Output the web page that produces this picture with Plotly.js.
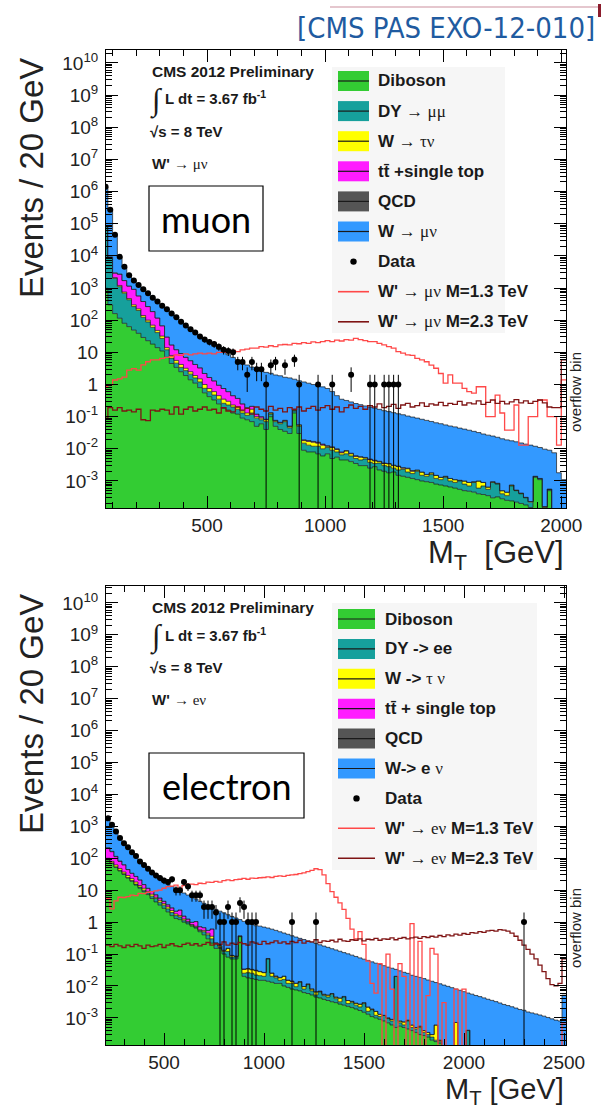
<!DOCTYPE html>
<html><head><meta charset="utf-8">
<script src="https://cdn.plot.ly/plotly-3.0.1.min.js"></script>
<style>html,body{margin:0;padding:0;background:#fff;}#chart{width:603px;height:1109px;}</style>
</head><body><div id="chart"></div>
<script>
// ---------------- MUON (top) : 20 GeV bins, first edge 60 GeV, last bin = overflow ----------------
const muFirstEdge = 60, muNbins = 98;
const muDiboson = [
980,300,160,115,80,63,49,39,29,23,18,14,11,
7,4.5,3.4,2.5,1.9,1.4,1.1,0.8,0.55,0.42,0.33,0.25,0.18,0.16,0.13,0.12,0.09,
0.08,0.07,0.05,0.06,0.04,0.1,0.05,0.04,0.035,0.03,0.13,0.03,
0.009,0.008,0.008,0.007,0.006,0.007,0.005,0.0055,0.0045,0.0045,0.004,0.0035,
0.003,0.003,0.0025,0.0028,0.0022,0.002,0.0018,0.0019,0.0015,0.0014,0.0013,0.0012,
0.0011,0.001,0.00095,0.0009,0.0008,0.00075,0.0007,0.00065,0.0006,0.00055,0.0005,0.00048,
0.00045,0.0004,0.00038,0.00035,0.0003,0.00032,0.00028,0.00025,0.00024,0.00022,0.0002,0.00018,
0.00015,0.0013,0.0011,0.00012,0.0005,0.0001,0.0001,0.0001];
const muDY = [
8e4,8000,1840,985,610,367,216,161,94,65,42,27,16,
5,2,1.2,0.9,0.8,0.7,0.5,0.4,0.21,0.18,0.14,0.1,0.08,0.07,0.07,0.05,0.04,
0.03,0.06,0.04,0.02,0.03,0.02,0.02,0.02,0.035,0.015,0.02,0.02,
0.006,0.005,0.004,0.005,0.004,0.004,0.004,0.0025,0.002,0.0025,0.002,0.0015,
0.0015,0.0018,0.0013,0.0007,0.0014,0.001,0.001,0.0006,0.0007,0.0009,0.0006,0.0005,
0.0009,0.0005,0.00045,0.0007,0.0004,0.00035,0.0006,0.00035,0.0003,0.00045,0.0003,0.00022,
0.00045,0.0002,0.00032,0.0002,0.0006,0.00048,0.00012,0.0001,0.00046,0.00028,0.0002,0.00012,
0.00007,0.0001,0.0001,0.00003,0.00005,0.00002,0,0];
const muWtau = [
200,200,100,100,60,40,35,25,17,12,10,7,5,
2,1.5,1.0,0.8,0.5,0.4,0.3,0.3,0.24,0.15,0.13,0.1,0.09,0.07,0.03,0.03,0.02,
0.02,0.04,0.01,0.01,0.01,0.01,0.005,0.005,0.005,0.005,0.01,0.005,
0.003,0.004,0.004,0.003,0.003,0.001,0.002,0.0015,0.001,0.0015,0.001,0.0008,
0.001,0.0004,0.0008,0.0007,0.0004,0.0005,0.0006,0.0005,0.0006,0.0002,0.0005,0.0003,
0.0002,0.0004,0.0002,0.0002,0.0003,0.0002,0.0001,0.0002,0.0002,0.00005,0.0002,0.0002,
0.00005,0.0004,0.0002,0.0001,0.00005,0.00005,0.0001,0.0001,0.00005,0.00002,0.00002,0.00001,
0.00001,0,0,0.00001,0.00001,0,0,0];
const muTop = [
1000,500,800,1500,950,680,610,345,240,165,115,69,35,
16,9,6.5,5,3.8,3,2.3,1.8,1.2,0.9,0.7,0.5,0.4,0.3,0.22,0.17,0.1,
0.06,0.04,0.02,0.01,0.003,0.003,0.002,0.002,0.002,0.001,0.001,0.001,
0.001,0.001,0.001,0.001,0.001,0.0005,0.0005,0.0005,0.0005,0.0003,0.0003,0.0003,
0.0002,0.0002,0.0002,0.0002,0.0001,0.0001,0.0001,0.0001,0.0001,0.0001,0.0001,0.0001,
0,0,0,0,0,0,0,0,0,0,0,0,
0,0,0,0,0,0,0,0,0,0,0,0,
0,0,0,0,0,0,0,0];
const muQCD = [
2000,300,60,15,5,2,1,0.5,0.3,0.2,0.1,0,0,
0,0,0,0,0,0,0,0,0,0,0,0,0,0,0,0,0,
0,0,0,0,0,0,0,0,0,0,0,0,
0,0,0,0,0,0,0,0,0,0,0,0,
0,0,0,0,0,0,0,0,0,0,0,0,
0,0,0,0,0,0,0,0,0,0,0,0,
0,0,0,0,0,0,0,0,0,0,0,0,
0,0,0,0,0,0,0,0];
const muWmunu = [
1.32e6,2.5e5,4.1e4,6800,2800,1450,790,630,500,395,315,263,218,
185,143,108,81,61,46.6,36,27.9,22.2,17.85,14.2,11.6,9.5,7.85,6.5,5.45,4.6,
3.85,3.27,2.88,2.6,2.3,2.1,1.9,1.8,1.6,1.55,1.3,1.25,
1.18,1.08,0.98,0.9,0.83,0.74,0.59,0.44,0.34,0.31,0.28,0.25,
0.23,0.21,0.195,0.18,0.165,0.15,0.14,0.13,0.12,0.112,0.102,0.095,
0.088,0.081,0.075,0.069,0.063,0.059,0.054,0.05,0.047,0.043,0.04,0.037,
0.034,0.031,0.028,0.026,0.024,0.022,0.02,0.0185,0.017,0.016,0.0148,0.0137,
0.0128,0.0106,0.0098,0.0096,0.0085,0.0074,0.0017,0.001];
const muData = [
1.4e6,2.7e5,4.5e4,9300,4600,2500,1700,1230,910,690,500,380,282,
219,162,123,89,68,52,41,31,25,21,18,15,12,11,10,5,5,
2,5,3,3,1,4,5,0,4,0,6,1,
0,0,0,1,0,0,1,0,0,0,2,0,
0,0,1,1,0,1,1,1,1,0,0,0,
0,0,0,0,0,0,0,0,0,0,0,0,
0,0,0,0,0,0,0,0,0,0,0,0,
0,0,0,0,0,0,0,0];
const muWp13 = [
0.85,0.98,1.38,1.5,1.7,2.8,3.1,2.8,4.1,5.1,5.8,5.8,6.5,
7,7.4,8.3,8,9,8.3,9,9.5,9,9.5,9,10,10,10.5,11.5,10.5,12,
12.6,13.5,13.5,15,14.5,16,15,17,17.5,17,19,18.5,
20,19,21,20,21.5,23,21.5,24,22.5,25,24,27,
25,23,21.5,21.5,19,17,15,13.5,10.5,9.5,8.3,8,
6.5,5.8,5.1,4,3.2,2.2,1.1,2.0,1.1,1.1,0.76,0.6,
0.54,0.85,0.85,0.1,0.1,0.47,0.13,0.038,0.038,0.23,0.013,0.013,
0.1,0.1,0.33,0.33,0.1,0.1,0.013,1.4];
const muWp23 = [
0.09,0.19,0.16,0.19,0.15,0.16,0.14,0.17,0.08,0.075,0.16,0.15,0.17,
0.16,0.12,0.2,0.12,0.17,0.2,0.15,0.17,0.2,0.16,0.17,0.13,0.19,0.15,0.14,0.2,0.16,
0.18,0.12,0.2,0.17,0.15,0.21,0.16,0.18,0.14,0.19,0.17,0.2,
0.15,0.18,0.21,0.16,0.19,0.22,0.17,0.2,0.14,0.19,0.23,0.18,
0.21,0.17,0.22,0.2,0.25,0.19,0.21,0.24,0.18,0.23,0.26,0.2,
0.22,0.27,0.21,0.25,0.23,0.28,0.22,0.26,0.24,0.3,0.23,0.27,
0.25,0.31,0.24,0.28,0.33,0.26,0.3,0.25,0.29,0.34,0.27,0.31,
0.26,0.3,0.33,0.27,0.2,0.19,0.19,5.8];

// ---------------- ELECTRON (bottom) : 20 GeV bins, first edge 210 GeV ----------------
const eFirstEdge = 210, eNbins = 115;
const eDiboson = [
89,70,52,40,31,24,19,14.5,11.5,9,7.3,5.5,4.3,3.4,2.7,2.1,1.6,1.3,1.2,1.0,
0.88,0.75,0.65,0.5,0.4,0.3,0.22,0.15,0.15,0.1,0.08,0.07,0.07,0.35,0.02,0.018,0.017,0.016,0.015,0.015,
0.014,0.013,0.012,0.012,0.01,0.009,0.008,0.0075,0.007,0.0062,0.0058,0.0052,0.0045,0.0042,0.0038,0.0035,0.0032,0.003,0.0027,0.0025,
0.0023,0.0021,0.0019,0.0017,0.0015,0.0013,0.0011,0.001,0.0009,0.0008,0.0007,0.0006,0.0005,0.00055,0.0005,0.00045,0.0004,0.00035,0.0003,0.00028,
0.00025,0.0002,0.00018,0.00016,0.0001,0.0001,0.0001,0.0001,0.0001,0.0001,0.0001,0.0001,0.0001,0.0001,0.0001,0.0001,0.0001,0.0001,0.0001,0.0001,
0.0001,0.0001,0.0001,0.0001,0.0001,0.0001,0.0001,0.0001,0.0001,0.0001,0.0001,0.0001,0.0001,0.0001,0.0001];
const eDY = [
3,2,2,2,2,1,1,1,1,1,0.9,1.0,1.2,0.8,0.7,0.5,0.4,0.3,0.25,0.15,
0.12,0.05,0.05,0.05,0.1,0.1,0.08,0.05,0.01,0.02,0.04,0.01,0.01,0.01,0.005,0.008,0.008,0.006,0.006,0.005,
0.056,0.007,0.006,0.003,0.006,0.003,0.004,0.002,0.006,0.0018,0.0052,0.0018,0.0007,0.0023,0.0012,0.001,0.0023,0.001,0.0005,0.002,
0.0005,0.0009,0.0006,0.0005,0.0013,0.0003,0.0007,0.0002,0.0002,0.0004,0.00025,0.0002,0.0195,0.00015,0.0001,0.00035,0.0001,0.0001,0.0002,0.00007,
0.00005,0.00005,0.00002,0.00002,0.00002,0.00002,0.00002,0.00002,0.00002,0.00002,0.0003,0.00002,0.00002,0.00002,0.00002,0.00002,0.00002,0.00002,0.00002,0.00002,
0.00002,0.00002,0.00002,0.00002,0.00002,0.00002,0.00002,0.00002,0.00002,0.00002,0.00002,0.00002,0.00002,0.00002,0.00002];
const eWtau = [
8,8,8,6,4,4,3,2.5,1.5,1.5,1.0,1.0,0.5,0.6,0.4,0.4,0.3,0.2,0.15,0.1,
0.05,0.04,0.04,0.02,0.05,0.05,0.06,0.02,0.02,0.01,0.03,0.01,0.005,0.01,0.008,0.008,0.007,0.008,0.007,0.006,
0.002,0.005,0.002,0.003,0.004,0.003,0.002,0.0025,0.0005,0.0015,0.0005,0.001,0.0013,0.0003,0.0005,0.0007,0.0003,0.0005,0.001,0.0002,
0.0007,0.0003,0.0004,0.0005,0.0002,0.0006,0.0001,0.0004,0.0002,0,0.00005,0.0001,0.0001,0.0001,0.00015,0.00005,0.0001,0.00005,0.00005,0.00005,
0.00005,0.00005,0.0004,0.00002,0.00001,0.00001,0.00001,0.0006,0.00001,0.00001,0.00001,0.00001,0.00001,0.00001,0.00001,0.00001,0.00001,0.00001,0.00001,0.00001,
0.00001,0.00001,0.00001,0.00001,0.00001,0.00001,0.00001,0.00001,0.00001,0.00001,0.00001,0.00001,0.00001,0.00001,0.00001];
const eTop = [
105,80,50,32,25,15,11,9,7,3.5,2.3,1.6,1.2,0.9,0.7,0.5,0.5,0.4,0.8,0.3,
0.2,0.15,0.3,0.15,0.12,0.1,0.25,0.005,0.003,0.002,0.002,0.001,0.001,0.001,0.001,0.001,0.001,0.001,0.0005,0.0005,
0.0005,0.0005,0.0005,0.0003,0.0003,0.0003,0.0002,0.0002,0.0002,0.0001,0.0001,0.0001,0.0001,0.0001,0,0,0,0,0,0,
0,0,0,0,0,0,0,0,0,0,0,0,0,0,0,0,0,0,0,0,
0,0,0,0,0,0,0,0,0,0,0,0,0,0,0,0,0,0,0,0,
0,0,0,0,0,0,0,0,0,0,0,0,0,0,0];
const eQCD = [
10,5,3,2,1,0.5,0,0,0,0,0,0,0,0,0,0,0,0,0,0,
0,0,0,0,0,0,0,0,0,0,0,0,0,0,0,0,0,0,0,0,
0,0,0,0,0,0,0,0,0,0,0,0,0,0,0,0,0,0,0,0,
0,0,0,0,0,0,0,0,0,0,0,0,0,0,0,0,0,0,0,0,
0,0,0,0,0,0,0,0,0,0,0,0,0,0,0,0,0,0,0,0,
0,0,0,0,0,0,0,0,0,0,0,0,0,0,0];
const eWenu = [
1485,885,545,338,227,170.5,116,86,61,47,36.5,27.9,21.8,17.3,14,12,10.2,8.8,7.0,6.6,
5.8,5.02,4.3,3.78,3.2,2.8,2.5,2.28,2.02,1.82,1.55,1.41,1.26,0.83,1.02,0.92,0.82,0.74,0.72,0.67,
0.58,0.575,0.53,0.48,0.435,0.4,0.36,0.328,0.296,0.275,0.248,0.227,0.208,0.188,0.172,0.157,0.141,0.13,0.118,0.106,
0.098,0.089,0.081,0.073,0.066,0.061,0.055,0.05,0.047,0.042,0.038,0.035,0.013,0.029,0.026,0.024,0.021,0.0195,0.018,0.0166,
0.015,0.0137,0.0122,0.0115,0.0105,0.0096,0.0087,0.0073,0.0072,0.0065,0.0056,0.0054,0.0049,0.0045,0.0041,0.0037,0.0034,0.0031,0.0028,0.0025,
0.0023,0.0021,0.0019,0.0017,0.0016,0.0014,0.0013,0.0012,0.0011,0.001,0.0009,0.0008,0.00072,0.00067,0.005];
const eData = [
1780,1120,690,430,295,222,155,118,79,62,47,36,29,24,20,18,22,10,10,18,
13,7,7,7,3,3,3,2,1,1,3,1,1,4,3,1,1,1,0,0,
0,0,0,0,0,0,1,0,0,0,0,0,1,0,0,0,0,0,0,0,
0,0,0,0,0,0,0,0,0,0,0,0,0,0,0,0,0,0,0,0,
0,0,0,0,0,0,0,0,0,0,0,0,0,0,0,0,0,0,0,0,
0,0,0,0,1,0,0,0,0,0,0,0,0,0,0];
const eWp13 = [
5.6,2.6,4.6,6,5.9,6.3,7,6.8,8,7.8,8.5,9,9.5,10,11.5,13,13.5,14.5,11,14,
15.5,15.5,15,16.5,16,18,17.5,19,18,20,21,20,21.5,22,23.5,22,24,23.5,24.5,25,
26,25,27,28,27,29,30,31,33,35,38,42,47,44,30,16,9,6,4,2.5,
1.3,0.6,0.3,0.5,0.2,0.06,0.012,0.006,0.05,0,0.1,0.008,0,0.05,0.02,0,0.9,0,0.25,0,
0.005,0.15,0.1,0,0.003,0,0,0.008,0,0.008,0,0,0,0,0,0,0,0,0,0,
0,0,0,0,0,0,0,0,0,0,0,0,0,0,0.0007];
const eWp23 = [
0.19,0.17,0.2,0.18,0.16,0.19,0.17,0.2,0.18,0.15,0.19,0.17,0.18,0.2,0.16,0.19,0.21,0.18,0.17,0.2,
0.22,0.19,0.21,0.18,0.2,0.23,0.19,0.21,0.2,0.24,0.19,0.22,0.2,0.23,0.21,0.19,0.24,0.22,0.2,0.25,
0.21,0.23,0.26,0.22,0.24,0.21,0.25,0.23,0.27,0.22,0.25,0.24,0.28,0.23,0.26,0.25,0.27,0.24,0.29,0.26,
0.25,0.28,0.27,0.3,0.26,0.29,0.28,0.31,0.27,0.3,0.29,0.32,0.28,0.31,0.33,0.3,0.32,0.34,0.31,0.35,
0.33,0.36,0.34,0.38,0.35,0.4,0.37,0.42,0.39,0.44,0.41,0.47,0.45,0.5,0.48,0.53,0.55,0.52,0.58,0.56,
0.52,0.45,0.36,0.27,0.19,0.14,0.1,0.07,0.045,0.028,0.017,0.011,0.01,0.012,0.07];

// ---------------- labels ----------------
const gk = s => "<span style='font-family:Liberation Serif'>" + s + "</span>";
const muLegendLabels = ["<b>Diboson</b>", "<b>DY</b> " + gk("→ μμ"), "<b>W</b> " + gk("→ τν"),
  "<b>tt\u0304 +single top</b>", "<b>QCD</b>", "<b>W</b> " + gk("→ μν"), "<b>Data</b>",
  "<b>W'</b> " + gk("→ μν") + " <b>M=1.3 TeV</b>", "<b>W'</b> " + gk("→ μν") + " <b>M=2.3 TeV</b>"];
const eLegendLabels = ["<b>Diboson</b>", "<b>DY -&gt; ee</b>", "<b>W -&gt;</b> " + gk("τ ν"),
  "<b>tt\u0304 + single top</b>", "<b>QCD</b>", "<b>W-&gt; e</b> " + gk("ν"), "<b>Data</b>",
  "<b>W'</b> " + gk("→ eν") + " <b>M=1.3 TeV</b>", "<b>W'</b> " + gk("→ eν") + " <b>M=2.3 TeV</b>"];
const muChannelText = ["<b>W'</b> " + gk("→ μν"), "muon"];
const eChannelText = ["<b>W'</b> " + gk("→ eν"), "electron"];
const infoText = ["<b>CMS 2012 Preliminary</b>", "<b>L dt = 3.67 fb<sup>-1</sup></b>", "<b>√s = 8 TeV</b>"];
const yTickPowers = [-3,-2,-1,0,1,2,3,4,5,6,7,8,9,10];
const yTickText = yTickPowers.map(p => p === 0 ? "1" : p === 1 ? "10" : "10<sup>" + p + "</sup>");
const muXTicks = [500,1000,1500,2000], eXTicks = [500,1000,1500,2000,2500];

// ---------------- colours ----------------
const C = {dib:'#33cc33', dy:'#16a09c', wtau:'#ffff00', top:'#ff1cff', qcd:'#555555', wl:'#3399ff', red:'#ff4848', dred:'#7f1414'};

// ---------------- helpers ----------------
const W = 603, H = 1109;
const px = x => x / W, py = y => 1 - y / H;
const TINY = 1e-9;
function edgesOf(first, n){ const e=[]; for(let i=0;i<=n;i++) e.push(first+20*i); return e; }
function centersOf(first, n){ const c=[]; for(let i=0;i<n;i++) c.push(first+10+20*i); return c; }
function stepY(v){ const y=v.map(a=>a>0?a:TINY); y.push(y[y.length-1]); return y; }

function stackTraces(ed, comps, xa, ya){
  const n = ed.length-1;
  let cum = new Array(n).fill(0);
  const tr=[{x:ed, y:ed.map(()=>TINY), mode:'lines', line:{width:0, shape:'hv'}, xaxis:xa, yaxis:ya, hoverinfo:'skip', showlegend:false}];
  comps.forEach(c=>{
    cum = cum.map((s,i)=>s+(c.v[i]||0));
    tr.push({x:ed, y:stepY(cum), mode:'lines', line:{shape:'hv', color:'#1a1a1a', width:0.7},
      fill:'tonexty', fillcolor:c.col, xaxis:xa, yaxis:ya, hoverinfo:'skip', showlegend:false});
  });
  return tr;
}
function lineTrace(ed, v, col, xa, ya){
  return {x:ed, y:stepY(v), mode:'lines', line:{shape:'hv', color:col, width:1.3}, xaxis:xa, yaxis:ya, hoverinfo:'skip', showlegend:false};
}
function dataTrace(cen, counts, xa, ya){
  const x=[],y=[],up=[],dn=[];
  counts.forEach((c,i)=>{ if(c>0){ const e=Math.sqrt(c); x.push(cen[i]); y.push(c); up.push(e); dn.push(c-e>0?e:c-1e-7); } });
  return {x, y, mode:'markers', marker:{color:'#000', size:6}, xaxis:xa, yaxis:ya, hoverinfo:'skip', showlegend:false,
    error_y:{type:'data', symmetric:false, array:up, arrayminus:dn, width:0, thickness:1, color:'#000'}};
}

const muEd = edgesOf(muFirstEdge, muNbins), muCen = centersOf(muFirstEdge, muNbins);
const eEd = edgesOf(eFirstEdge, eNbins), eCen = centersOf(eFirstEdge, eNbins);

let traces = [];
traces = traces.concat(stackTraces(muEd, [
  {v:muDiboson,col:C.dib},{v:muDY,col:C.dy},{v:muWtau,col:C.wtau},{v:muTop,col:C.top},{v:muQCD,col:C.qcd},{v:muWmunu,col:C.wl}], 'x','y'));
traces.push(lineTrace(muEd, muWp13, C.red, 'x','y'));
traces.push(lineTrace(muEd, muWp23, C.dred, 'x','y'));
traces.push(dataTrace(muCen, muData, 'x','y'));
traces = traces.concat(stackTraces(eEd, [
  {v:eDiboson,col:C.dib},{v:eDY,col:C.dy},{v:eWtau,col:C.wtau},{v:eTop,col:C.top},{v:eQCD,col:C.qcd},{v:eWenu,col:C.wl}], 'x2','y2'));
traces.push(lineTrace(eEd, eWp13, C.red, 'x2','y2'));
traces.push(lineTrace(eEd, eWp23, C.dred, 'x2','y2'));
traces.push(dataTrace(eCen, eData, 'x2','y2'));

// axes
const tickFont = {family:'Liberation Sans, Arial, sans-serif', size:19, color:'#222'};
const yMinor = []; for(let p=-4;p<=10;p++) for(let m=2;m<=9;m++) yMinor.push(m*Math.pow(10,p));
function yAxis(range, dom, anchor){
  return {type:'log', range, domain:dom, anchor, tickmode:'array', tickvals:yTickPowers.map(p=>Math.pow(10,p)), ticktext:yTickText,
    ticks:'inside', ticklen:12, tickwidth:1, tickcolor:'#000', ticklabelstandoff:3,
    minor:{tickmode:'array', tickvals:yMinor, ticks:'inside', ticklen:6, tickwidth:1, tickcolor:'#000'},
    showline:true, linecolor:'#000', linewidth:1, mirror:'ticks', showgrid:false, zeroline:false, tickfont:tickFont, fixedrange:true};
}
function xAxis(range, dom, anchor, majors, lo, hi){
  const mn=[]; for(let v=lo; v<=hi; v+=100) if(majors.indexOf(v)<0) mn.push(v);
  return {range, domain:dom, anchor, tickmode:'array', tickvals:majors, ticktext:majors.map(String),
    ticks:'inside', ticklen:12, tickwidth:1, tickcolor:'#000', ticklabelstandoff:0,
    minor:{tickmode:'array', tickvals:mn, ticks:'inside', ticklen:6, tickwidth:1, tickcolor:'#000'},
    showline:true, linecolor:'#000', linewidth:1, mirror:'ticks', showgrid:false, zeroline:false, tickfont:tickFont, fixedrange:true};
}

const shapes = [], annotations = [];
const txt = (x,y,text,o) => annotations.push(Object.assign({xref:'paper', yref:'paper', x:px(x), y:py(y), text, showarrow:false,
  xanchor:'left', yanchor:'middle', font:{family:'Liberation Sans, Arial, sans-serif', size:15, color:'#1a1a1a'}}, o||{}));

// header
txt(597, 28, "[CMS PAS EXO-12-010]", {xanchor:'right', font:{family:'Liberation Sans Narrow, DejaVu Sans Condensed, Liberation Sans', size:29, color:'#1f5ba0'}});
shapes.push({type:'line', xref:'paper', yref:'paper', x0:px(330), x1:px(598), y0:py(7), y1:py(7), line:{color:'rgba(180,90,110,0.45)', width:1.5}});
shapes.push({type:'rect', xref:'paper', yref:'paper', x0:px(598), x1:px(601), y0:py(17), y1:py(4), fillcolor:'#8b1c2c', line:{width:0}});

function panel(top, legendBox, legendLabels, chanText, box){
  txt(31, top+128, "Events / 20 GeV", {xanchor:'center', textangle:-90, font:{family:'Liberation Sans, Arial, sans-serif', size:33, color:'#222'}});
  txt(150, top+21, infoText[0], {font:{family:'Liberation Sans, Arial, sans-serif', size:15.5, color:'#1a1a1a'}});
  txt(148, top+50, "∫", {font:{family:'Liberation Serif, serif', size:31, color:'#1a1a1a'}});
  txt(163, top+48, infoText[1]);
  txt(148, top+81, infoText[2]);
  txt(150, top+113, chanText[0]);
  shapes.push({type:'rect', xref:'paper', yref:'paper', x0:px(box.x0), x1:px(box.x1), y0:py(box.y1), y1:py(box.y0), fillcolor:'#fff', line:{color:'#000', width:1.2}, layer:'above'});
  txt((box.x0+box.x1)/2, (box.y0+box.y1)/2, chanText[1], {xanchor:'center', font:{family:'Lato, Liberation Sans, sans-serif', size:36, color:'#000'}});
  txt(575, top+342, "overflow bin", {xanchor:'center', textangle:-90, font:{family:'Liberation Sans, Arial, sans-serif', size:15, color:'#222'}});
  const L = legendBox;
  shapes.push({type:'rect', xref:'paper', yref:'paper', x0:px(L.x0), x1:px(L.x1), y0:py(L.y1), y1:py(L.y0), fillcolor:'#f6f6f6', line:{width:0}, layer:'above'});
  const kinds = [C.dib, C.dy, C.wtau, C.top, C.qcd, C.wl, 'data', 'r', 'd'];
  legendLabels.forEach((lab,k)=>{
    const yc = L.row0 + k*L.step, kd = kinds[k];
    if(kd==='data'){
      shapes.push({type:'circle', xref:'paper', yref:'paper', x0:px((L.s0+L.s1)/2-3.2), x1:px((L.s0+L.s1)/2+3.2), y0:py(yc+3.2), y1:py(yc-3.2), fillcolor:'#000', line:{width:0}, layer:'above'});
    } else if(kd==='r' || kd==='d'){
      shapes.push({type:'line', xref:'paper', yref:'paper', x0:px(L.s0), x1:px(L.s1), y0:py(yc), y1:py(yc), line:{color:kd==='r'?C.red:C.dred, width:1.6}, layer:'above'});
    } else {
      shapes.push({type:'rect', xref:'paper', yref:'paper', x0:px(L.s0), x1:px(L.s1), y0:py(yc+10), y1:py(yc-10), fillcolor:kd, line:{width:0}, layer:'above'});
      shapes.push({type:'line', xref:'paper', yref:'paper', x0:px(L.s0), x1:px(L.s1), y0:py(yc), y1:py(yc), line:{color:'#1a1a1a', width:1.2}, layer:'above'});
    }
    txt(L.tx, yc, lab, {font:{family:'Liberation Sans, Arial, sans-serif', size:17, color:'#1a1a1a'}});
  });
}

panel(50, {x0:332, x1:505, y0:67, y1:333, row0:81, step:30.1, s0:338, s1:369, tx:376}, muLegendLabels, muChannelText, {x0:149, x1:263, y0:186, y1:251});
panel(586, {x0:332, x1:537, y0:603, y1:870, row0:619, step:29.9, s0:338, s1:375, tx:383}, eLegendLabels, eChannelText, {x0:149, x1:304, y0:753, y1:818});
// x titles
txt(566, 555, "M<sub>T</sub>  [GeV]", {xanchor:'right', font:{family:'Liberation Sans, Arial, sans-serif', size:31, color:'#222'}});
txt(566, 1091, "M<sub>T</sub> [GeV]", {xanchor:'right', font:{family:'Liberation Sans, Arial, sans-serif', size:29, color:'#222'}});

const layout = {
  width:W, height:H, margin:{l:0,r:0,t:0,b:0}, paper_bgcolor:'#fff', plot_bgcolor:'#fff', showlegend:false,
  xaxis: xAxis([72,2020], [px(106),px(566)], 'y', muXTicks, 100, 2000),
  yaxis: yAxis([-3.84,10.40], [py(508),py(50)], 'x'),
  xaxis2: xAxis([210,2510], [px(106),px(566)], 'y2', eXTicks, 300, 2500),
  yaxis2: yAxis([-3.85,10.53], [py(1045),py(586)], 'x2'),
  shapes, annotations
};
Plotly.newPlot('chart', traces, layout, {staticPlot:true, displayModeBar:false});
</script></body></html>
